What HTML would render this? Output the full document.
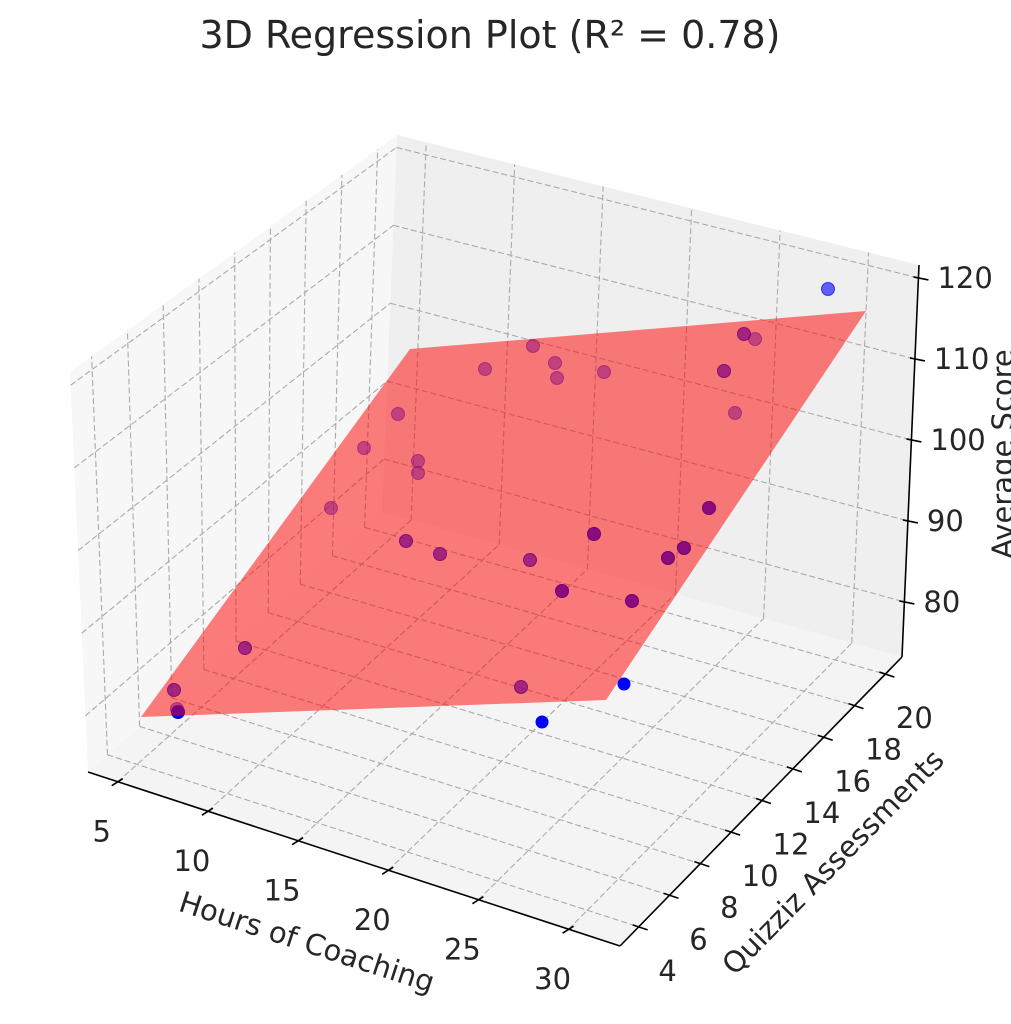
<!DOCTYPE html>
<html><head><meta charset="utf-8"><style>
html,body{margin:0;padding:0;background:#fff;}
svg{display:block;font-family:"DejaVu Sans","Liberation Sans",sans-serif;}
</style></head><body>
<svg id="s" width="1011" height="1024" viewBox="0 0 1011 1024" xmlns="http://www.w3.org/2000/svg">
<text x="490" y="48" text-anchor="middle" font-size="38" fill="#262626">3D Regression Plot (R² = 0.78)</text>
<g id="panes"></g>
<g id="grid" stroke="#aaaaaa" stroke-width="1.1" stroke-dasharray="6,3" fill="none"></g>
<g id="under"></g>
<polygon points="141,717 410,349 866,311 606,700" fill="#ff0000" fill-opacity="0.5"/>
<g id="pts"></g>
<g id="axes" stroke="#000" stroke-width="1.6" fill="none"></g>
<g id="labels" font-size="29" fill="#262626"></g>
<text transform="translate(307,942) rotate(18)" text-anchor="middle" dominant-baseline="central" font-size="29" fill="#262626">Hours of Coaching</text>
<text transform="translate(833,862) rotate(-45.5)" text-anchor="middle" dominant-baseline="central" font-size="29" fill="#262626">Quizziz Assessments</text>
<text transform="translate(1003,454) rotate(-90)" text-anchor="middle" dominant-baseline="central" font-size="29" fill="#262626">Average Score</text>
</svg>
<script>
var NS="http://www.w3.org/2000/svg";
function el(p,t,a){var e=document.createElementNS(NS,t);for(var k in a)e.setAttribute(k,a[k]);p.appendChild(e);return e;}
var F00=[88,772],F10=[620,946],F11=[902,657],F01=[382,512];
var T00=[70,372],T10=[618,538],T11=[919,265],T01=[397,135];
function bl(A,B,C,D,u,v){return [A[0]*(1-u)*(1-v)+B[0]*u*(1-v)+C[0]*u*v+D[0]*(1-u)*v, A[1]*(1-u)*(1-v)+B[1]*u*(1-v)+C[1]*u*v+D[1]*(1-u)*v];}
function P(u,v,w){var b=bl(F00,F10,F11,F01,u,v),t=bl(T00,T10,T11,T01,u,v);return [b[0]+(t[0]-b[0])*w,b[1]+(t[1]-b[1])*w];}
var xmin=3.35,xmax=32.85,ymin=2.79,ymax=21.08,zmin=73.2,zmax=121.6;
function U(x){return (x-xmin)/(xmax-xmin);}function V(y){return (y-ymin)/(ymax-ymin);}function W(z){return (z-zmin)/(zmax-zmin);}
var panes=document.getElementById('panes');
function poly(pts,fill){el(panes,'polygon',{points:pts.map(function(p){return p.join(',')}).join(' '),fill:fill});}
poly([F00,F10,F11,F01],'#f4f4f4');
poly([F00,F01,T01,T00],'#f7f7f7');
poly([F01,F11,T11,T01],'#efefef');
var g=document.getElementById('grid');
function ln(a,b){el(g,'line',{x1:a[0],y1:a[1],x2:b[0],y2:b[1]});}
var xt=[5,10,15,20,25,30],yt=[4,6,8,10,12,14,16,18,20],zt=[80,90,100,110,120];
xt.forEach(function(x){ln(P(U(x),0,0),P(U(x),1,0));ln(P(U(x),1,0),P(U(x),1,1));});
yt.forEach(function(y){ln(P(0,V(y),0),P(1,V(y),0));ln(P(0,V(y),0),P(0,V(y),1));});
zt.forEach(function(z){ln(P(0,0,W(z)),P(0,1,W(z)));ln(P(0,1,W(z)),P(1,1,W(z)));});
var ax=document.getElementById('axes');
function al(a,b){el(ax,'line',{x1:a[0],y1:a[1],x2:b[0],y2:b[1]});}
al(F00,F10);al(F10,F11);al(F11,T11);
var lab=document.getElementById('labels');
function tx(s,x,y,anc){var t=el(lab,'text',{x:x,y:y,'text-anchor':anc,'dominant-baseline':'central'});t.textContent=s;}
xt.forEach(function(x){var p=P(U(x),0,0);al([p[0]-6,p[1]+4],[p[0]+5,p[1]-3]);tx(String(x),p[0]-16,p[1]+50,'middle');});
yt.forEach(function(y){var p=P(1,V(y),0);al([p[0]-6,p[1]-2],[p[0]+9,p[1]+3]);tx(String(y),p[0]+29,p[1]+44,'middle');});
zt.forEach(function(z){var p=P(1,1,W(z));al([p[0]-5,p[1]-1],[p[0]+10,p[1]+2]);tx(String(z),p[0]+19,p[1],'start');});
var under=document.getElementById('under');
el(under,'circle',{cx:178,cy:712,r:6.5,fill:'#0000ff',stroke:'#0000cc'});
var pts=document.getElementById('pts');
var light=[[331,508],[364,448],[398,414],[418,461],[418,473],[485,369],[533,346],[555,363],[557,378],[604,372],[735,413],[755,339],[177,709]];
var mid=[[724,371],[744,334],[406,541],[440,554],[530,560],[245,648],[174,690],[521,687]];
var dark=[[562,591],[594,534],[632,601],[668,558],[684,548],[709,508]];
light.forEach(function(p){el(pts,'circle',{cx:p[0],cy:p[1],r:6.5,fill:'#800080','fill-opacity':0.45,stroke:'#800080','stroke-opacity':0.5});});
mid.forEach(function(p){el(pts,'circle',{cx:p[0],cy:p[1],r:6.5,fill:'#800080','fill-opacity':0.7,stroke:'#700070','stroke-opacity':0.8});});
dark.forEach(function(p){el(pts,'circle',{cx:p[0],cy:p[1],r:6.5,fill:'#800080','fill-opacity':0.9,stroke:'#700070'});});
el(pts,'circle',{cx:828,cy:289,r:6.5,fill:'#0000ff','fill-opacity':0.6,stroke:'#0000ff','stroke-opacity':0.7});
el(pts,'circle',{cx:624,cy:684,r:6.5,fill:'#0000ff'});
el(pts,'circle',{cx:542,cy:722,r:6.5,fill:'#0000ff'});
</script>
</body></html>
